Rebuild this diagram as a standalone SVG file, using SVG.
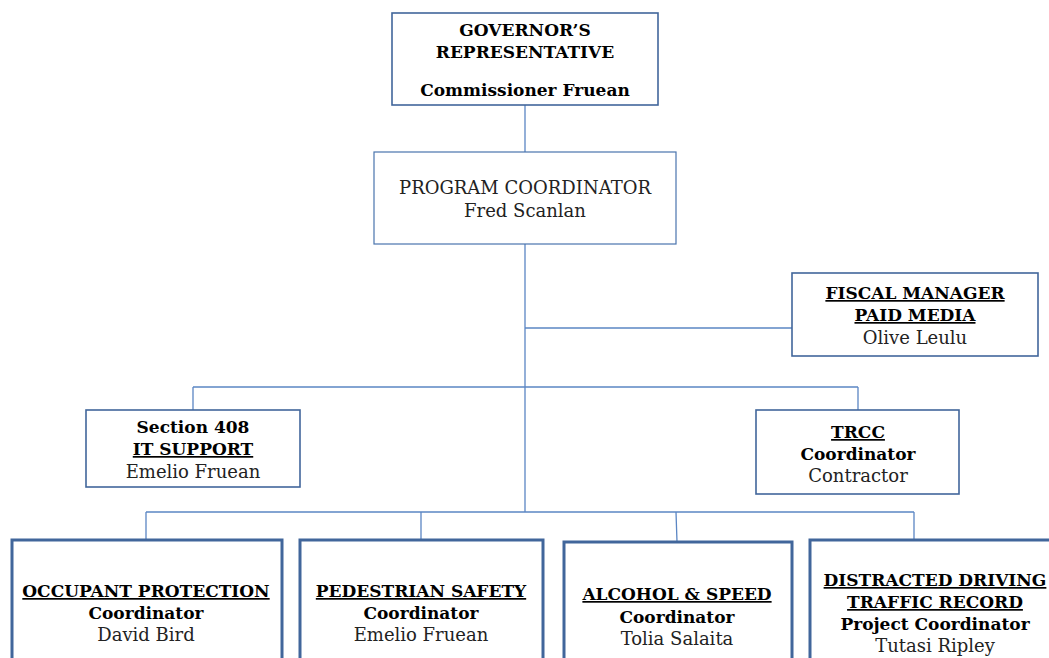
<svg xmlns="http://www.w3.org/2000/svg" width="1049" height="658" viewBox="0 0 1049 658">
<style>
.box{fill:#fff;stroke:#41669b;stroke-width:1.6}
.thick{fill:#fff;stroke:#41669b;stroke-width:3}
.thin{fill:#fff;stroke:#4a74ad;stroke-width:1.2}
.con{fill:none;stroke:#5b86c4;stroke-width:1.3}
text{font-family:"DejaVu Serif","Liberation Serif",serif;font-size:17px;text-anchor:middle;fill:#000}
.b{font-weight:bold}
.u{text-decoration:underline}
.r{fill:#222;font-size:18px}
</style>
<rect width="1049" height="658" fill="#fff"/>
<g id="connectors">
<path class="con" d="M525 105V152M525 244V512M525 328H792M193 387H858M193 387V410M858 387V410M146 512H914M146 512V540M421 512V540M676 512L677 542M914 512V540"/>
</g>
<g id="governor">
<rect class="box" x="392" y="13" width="266" height="92"/>
<text class="b" x="525" y="36">GOVERNOR’S</text>
<text class="b" x="525" y="58">REPRESENTATIVE</text>
<text class="b" x="525" y="96">Commissioner Fruean</text>
</g>
<g id="program">
<rect class="thin" x="374" y="152" width="302" height="92"/>
<text class="r" x="525" y="194">PROGRAM COORDINATOR</text>
<text class="r" x="525" y="217">Fred Scanlan</text>
</g>
<g id="fiscal">
<rect class="box" x="792" y="273" width="246" height="83"/>
<text class="b u" x="915" y="299">FISCAL MANAGER</text>
<text class="b u" x="915" y="321">PAID MEDIA</text>
<text class="r" x="915" y="344">Olive Leulu</text>
</g>
<g id="section408">
<rect class="box" x="86" y="410" width="214" height="77"/>
<text class="b" x="193" y="433">Section 408</text>
<text class="b u" x="193" y="455">IT SUPPORT</text>
<text class="r" x="193" y="478">Emelio Fruean</text>
</g>
<g id="trcc">
<rect class="box" x="756" y="410" width="203" height="84"/>
<text class="b u" x="858" y="438">TRCC</text>
<text class="b" x="858" y="460">Coordinator</text>
<text class="r" x="858" y="482">Contractor</text>
</g>
<g id="occupant">
<rect class="thick" x="12" y="540" width="270" height="130"/>
<text class="b u" x="146" y="597">OCCUPANT PROTECTION</text>
<text class="b" x="146" y="619">Coordinator</text>
<text class="r" x="146" y="641">David Bird</text>
</g>
<g id="pedestrian">
<rect class="thick" x="300" y="540" width="243" height="130"/>
<text class="b u" x="421" y="597">PEDESTRIAN SAFETY</text>
<text class="b" x="421" y="619">Coordinator</text>
<text class="r" x="421" y="641">Emelio Fruean</text>
</g>
<g id="alcohol">
<rect class="thick" x="564" y="542" width="228" height="130"/>
<text class="b u" x="677" y="600">ALCOHOL &amp; SPEED</text>
<text class="b" x="677" y="623">Coordinator</text>
<text class="r" x="677" y="645">Tolia Salaita</text>
</g>
<g id="distracted">
<rect class="thick" x="810" y="540" width="250" height="130"/>
<text class="b u" x="935" y="586">DISTRACTED DRIVING</text>
<text class="b u" x="935" y="608">TRAFFIC RECORD</text>
<text class="b" x="935" y="630">Project Coordinator</text>
<text class="r" x="935" y="652">Tutasi Ripley</text>
</g>
</svg>
